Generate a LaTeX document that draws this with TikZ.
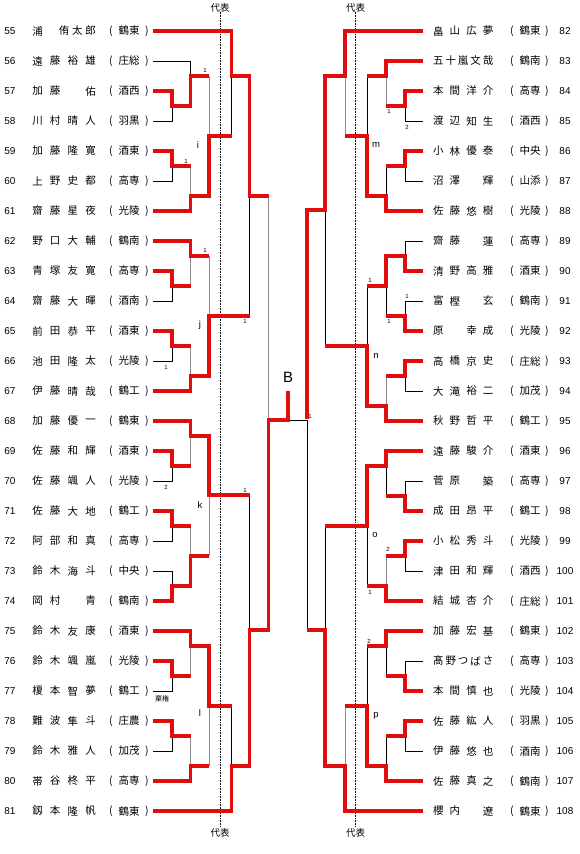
\documentclass[tikz,border=0pt]{standalone}
\usepackage{fontspec}
\setmainfont{Liberation Sans}
\newfontfamily\jp{Noto Sans CJK JP}
\definecolor{redl}{RGB}{225,12,12}
\tikzset{
 win/.style={draw=redl, line width=3.2pt},
 losek/.style={draw=black, line width=0.9pt},
 loseg/.style={draw=black!45, line width=0.9pt},
 jp/.style={font=\jp\fontsize{10.5}{12}\selectfont, inner sep=0pt},
 num/.style={font=\fontsize{10}{12}\selectfont, inner sep=0pt},
 tag/.style={font=\fontsize{6}{7}\selectfont, inner sep=0pt},
 blk/.style={font=\fontsize{9.5}{11}\selectfont, inner sep=0pt},
 rep/.style={font=\jp\fontsize{9.5}{11}\selectfont, inner sep=0pt},
 dotline/.style={draw=black, line width=0.6pt, densely dotted},
}
\newcommand\Lfour[7]{%
 \node[num] (num#1) at (10,#2) {#1};
 \node[jp] (na#1) at (37.5,#2) {#3};
 \node[jp] (nb#1) at (55.2,#2) {#4};
 \node[jp] (nc#1) at (72.9,#2) {#5};
 \node[jp] (nd#1) at (90.6,#2) {#6};
 \node[jp] (op#1) at (111,#2) {(};
 \node[jp] (sc#1) at (129,#2) {#7};
 \node[jp] (cp#1) at (147,#2) {)};
 \coordinate (e#1) at (153,#2);
}
\newcommand\Lfive[8]{%
 \node[num] (num#1) at (10,#2) {#1};
 \node[jp] (na#1) at (37.5,#2) {#3};
 \node[jp] (nb#1) at (50.8,#2) {#4};
 \node[jp] (nc#1) at (64,#2) {#5};
 \node[jp] (nd#1) at (77.3,#2) {#6};
 \node[jp] (ne#1) at (90.6,#2) {#7};
 \node[jp] (op#1) at (111,#2) {(};
 \node[jp] (sc#1) at (129,#2) {#8};
 \node[jp] (cp#1) at (147,#2) {)};
 \coordinate (e#1) at (153,#2);
}
\newcommand\Rfour[7]{%
 \node[num] (num#1) at (565,#2) {#1};
 \node[jp] (na#1) at (438.3,#2) {#3};
 \node[jp] (nb#1) at (454.9,#2) {#4};
 \node[jp] (nc#1) at (471.5,#2) {#5};
 \node[jp] (nd#1) at (488.1,#2) {#6};
 \node[jp] (op#1) at (512,#2) {(};
 \node[jp] (sc#1) at (530,#2) {#7};
 \node[jp] (cp#1) at (547,#2) {)};
 \coordinate (e#1) at (423,#2);
}
\newcommand\Rfive[8]{%
 \node[num] (num#1) at (565,#2) {#1};
 \node[jp] (na#1) at (438.3,#2) {#3};
 \node[jp] (nb#1) at (450.75,#2) {#4};
 \node[jp] (nc#1) at (463.2,#2) {#5};
 \node[jp] (nd#1) at (475.65,#2) {#6};
 \node[jp] (ne#1) at (488.1,#2) {#7};
 \node[jp] (op#1) at (512,#2) {(};
 \node[jp] (sc#1) at (530,#2) {#8};
 \node[jp] (cp#1) at (547,#2) {)};
 \coordinate (e#1) at (423,#2);
}
\begin{document}
\begin{tikzpicture}[x=1pt,y=-1pt]
\fill[white] (0,0) rectangle (580,854);
\useasboundingbox (0,0) rectangle (580,854);

% representative lines
\node[rep] (repLt) at (220,8) {代表};
\node[rep] (repLb) at (220,833) {代表};
\node[rep] (repRt) at (355.5,8) {代表};
\node[rep] (repRb) at (355.5,833) {代表};
\draw[dotline] (repLt.south) ++(0,-1) -- (220,827);
\draw[dotline] (repRt.south) ++(0,-1) -- (355.5,827);

% left players
\Lfive{55}{31}{浦}{}{侑}{太}{郎}{鶴東}
\Lfour{56}{61}{遠}{藤}{裕}{雄}{庄総}
\Lfour{57}{91}{加}{藤}{}{佑}{酒西}
\Lfour{58}{121}{川}{村}{晴}{人}{羽黒}
\Lfour{59}{151}{加}{藤}{隆}{寛}{酒東}
\Lfour{60}{181}{上}{野}{史}{都}{高専}
\Lfour{61}{211}{齋}{藤}{星}{夜}{光陵}
\Lfour{62}{241}{野}{口}{大}{輔}{鶴南}
\Lfour{63}{271}{青}{塚}{友}{寛}{高専}
\Lfour{64}{301}{齋}{藤}{大}{暉}{酒南}
\Lfour{65}{331}{前}{田}{恭}{平}{酒東}
\Lfour{66}{361}{池}{田}{隆}{太}{光陵}
\Lfour{67}{391}{伊}{藤}{晴}{哉}{鶴工}
\Lfour{68}{421}{加}{藤}{優}{一}{鶴東}
\Lfour{69}{451}{佐}{藤}{和}{輝}{酒東}
\Lfour{70}{481}{佐}{藤}{颯}{人}{光陵}
\Lfour{71}{511}{佐}{藤}{大}{地}{鶴工}
\Lfour{72}{541}{阿}{部}{和}{真}{高専}
\Lfour{73}{571}{鈴}{木}{海}{斗}{中央}
\Lfour{74}{601}{岡}{村}{}{青}{鶴南}
\Lfour{75}{631}{鈴}{木}{友}{康}{酒東}
\Lfour{76}{661}{鈴}{木}{颯}{嵐}{光陵}
\Lfour{77}{691}{榎}{本}{智}{夢}{鶴工}
\Lfour{78}{721}{難}{波}{隼}{斗}{庄農}
\Lfour{79}{751}{鈴}{木}{雅}{人}{加茂}
\Lfour{80}{781}{帯}{谷}{柊}{平}{高専}
\Lfour{81}{811}{釼}{本}{隆}{帆}{鶴東}

% right players
\Rfour{82}{31}{畠}{山}{広}{夢}{鶴東}
\Rfive{83}{61}{五}{十}{嵐}{文}{哉}{鶴南}
\Rfour{84}{91}{本}{間}{洋}{介}{高専}
\Rfour{85}{121}{渡}{辺}{知}{生}{酒西}
\Rfour{86}{151}{小}{林}{優}{泰}{中央}
\Rfour{87}{181}{沼}{澤}{}{輝}{山添}
\Rfour{88}{211}{佐}{藤}{悠}{樹}{光陵}
\Rfour{89}{241}{齋}{藤}{}{蓮}{高専}
\Rfour{90}{271}{清}{野}{高}{雅}{酒東}
\Rfour{91}{301}{富}{樫}{}{玄}{鶴南}
\Rfour{92}{331}{原}{}{幸}{成}{光陵}
\Rfour{93}{361}{高}{橋}{京}{史}{庄総}
\Rfour{94}{391}{大}{滝}{裕}{二}{加茂}
\Rfour{95}{421}{秋}{野}{哲}{平}{鶴工}
\Rfour{96}{451}{遠}{藤}{駿}{介}{酒東}
\Rfour{97}{481}{菅}{原}{}{築}{高専}
\Rfour{98}{511}{成}{田}{昂}{平}{鶴工}
\Rfour{99}{541}{小}{松}{秀}{斗}{光陵}
\Rfour{100}{571}{津}{田}{和}{輝}{酒西}
\Rfour{101}{601}{結}{城}{杏}{介}{庄総}
\Rfour{102}{631}{加}{藤}{宏}{基}{鶴東}
\Rfive{103}{661}{髙}{野}{つ}{ば}{さ}{高専}
\Rfour{104}{691}{本}{間}{慎}{也}{光陵}
\Rfour{105}{721}{佐}{藤}{紘}{人}{羽黒}
\Rfour{106}{751}{伊}{藤}{悠}{也}{酒南}
\Rfour{107}{781}{佐}{藤}{真}{之}{鶴南}
\Rfour{108}{811}{櫻}{内}{}{遼}{鶴東}

% ---------- left thin lines ----------
\draw[losek] (e56) -- (190.5,61) -- (190.5,76);
\draw[losek] (e58) -- (172,121) -- (172,106);
\draw[losek] (e60) -- (172,181) -- (172,166);
\draw[loseg] (190.5,166) -- (190.5,196);
\draw[loseg] (209,76) -- (209,136);
\draw[losek] (231.5,76) -- (231.5,136);
\draw[loseg] (190.5,256) -- (190.5,286);
\draw[losek] (e64) -- (172,301) -- (172,286);
\draw[losek] (e66) -- (172,361) -- (172,346);
\draw[loseg] (190.5,346) -- (190.5,376);
\draw[loseg] (209,256) -- (209,316);
\draw[losek] (249.5,196) -- (249.5,316);
\draw[loseg] (268.5,196) -- (268.5,420);
\draw[losek] (e70) -- (172,481) -- (172,466);
\draw[loseg] (190.5,436) -- (190.5,466);
\draw[losek] (e72) -- (172,541) -- (172,526);
\draw[losek] (e73) -- (172,571) -- (172,586);
\draw[loseg] (190.5,526) -- (190.5,556);
\draw[loseg] (209,495) -- (209,556);
\draw[losek] (249.5,495) -- (249.5,630);
\draw[losek] (e77) -- (172,691) -- (172,676);
\draw[loseg] (190.5,646) -- (190.5,676);
\draw[losek] (e79) -- (172,751) -- (172,736);
\draw[loseg] (190.5,736) -- (190.5,766);
\draw[loseg] (209,706) -- (209,766);
\draw[losek] (231.5,706) -- (231.5,766);
\coordinate (fin) at (288,420);
\coordinate (finR) at (307,420);
\draw[losek] (fin) -- (finR);

% ---------- right thin lines ----------
\draw[losek] (e85) -- (405,121) -- (405,106);
\draw[loseg] (386,76) -- (386,106);
\draw[losek] (e87) -- (405,181) -- (405,166);
\draw[losek] (386,166) -- (386,196);
\draw[losek] (367,76) -- (367,136);
\draw[loseg] (345,76) -- (345,136);
\draw[losek] (e89) -- (405,241) -- (405,256);
\draw[losek] (e91) -- (405,301) -- (405,316);
\draw[losek] (386,286) -- (386,316);
\draw[losek] (e94) -- (405,391) -- (405,376);
\draw[loseg] (386,376) -- (386,406);
\draw[losek] (367,286) -- (367,346);
\draw[losek] (325,210) -- (325,346);
\draw[losek] (e97) -- (405,481) -- (405,496);
\draw[losek] (386,466) -- (386,496);
\draw[losek] (e100) -- (405,571) -- (405,556);
\draw[loseg] (386,556) -- (386,586);
\draw[losek] (367,526) -- (367,586);
\draw[losek] (325,526) -- (325,630);
\draw[losek] (finR) -- (307,630);
\draw[losek] (e103) -- (405,661) -- (405,676);
\draw[losek] (386,646) -- (386,676);
\draw[losek] (e106) -- (405,751) -- (405,736);
\draw[losek] (386,736) -- (386,766);
\draw[losek] (367,646) -- (367,706);
\draw[loseg] (345,706) -- (345,766);

% ---------- left winners ----------
\draw[win] (e57) -- (172,91) -- (172,106) -- (190.5,106) -- (190.5,76) -- (209,76);
\draw[win] (e59) -- (172,151) -- (172,166) -- (190.5,166);
\draw[win] (e61) -- (190.5,211) -- (190.5,196) -- (209,196) -- (209,136) -- (231.5,136);
\draw[win] (e55) -- (231.5,31) -- (231.5,76) -- (249.5,76) -- (249.5,196) -- (268.5,196);
\draw[win] (e62) -- (190.5,241) -- (190.5,256) -- (209,256);
\draw[win] (e63) -- (172,271) -- (172,286) -- (190.5,286);
\draw[win] (e65) -- (172,331) -- (172,346) -- (190.5,346);
\draw[win] (e67) -- (190.5,391) -- (190.5,376) -- (209,376) -- (209,316) -- (249.5,316);
\draw[win] (e68) -- (190.5,421) -- (190.5,436) -- (209,436) -- (209,495) -- (249.5,495);
\draw[win] (e69) -- (172,451) -- (172,466) -- (190.5,466);
\draw[win] (e71) -- (172,511) -- (172,526) -- (190.5,526);
\draw[win] (e74) -- (172,601) -- (172,586) -- (190.5,586) -- (190.5,556) -- (209,556);
\draw[win] (e75) -- (190.5,631) -- (190.5,646) -- (209,646) -- (209,706) -- (231.5,706);
\draw[win] (e76) -- (172,661) -- (172,676) -- (190.5,676);
\draw[win] (e78) -- (172,721) -- (172,736) -- (190.5,736);
\draw[win] (e80) -- (190.5,781) -- (190.5,766) -- (209,766);
\draw[win] (e81) -- (231.5,811) -- (231.5,766) -- (249.5,766) -- (249.5,630) -- (268.5,630) -- (268.5,420) -- (fin) -- (288,391);

% ---------- right winners ----------
\draw[win] (e83) -- (386,61) -- (386,76) -- (367,76);
\draw[win] (e84) -- (405,91) -- (405,106) -- (386,106);
\draw[win] (e86) -- (405,151) -- (405,166) -- (386,166);
\draw[win] (e88) -- (386,211) -- (386,196) -- (367,196) -- (367,136) -- (345,136);
\draw[win] (e82) -- (345,31) -- (345,76) -- (325,76) -- (325,210) -- (307,210) -- (307,418.5);
\draw[win] (e90) -- (405,271) -- (405,256) -- (386,256) -- (386,286) -- (367,286);
\draw[win] (e92) -- (405,331) -- (405,316) -- (386,316);
\draw[win] (e93) -- (405,361) -- (405,376) -- (386,376);
\draw[win] (e95) -- (386,421) -- (386,406) -- (367,406) -- (367,346) -- (325,346);
\draw[win] (e96) -- (386,451) -- (386,466) -- (367,466) -- (367,526) -- (325,526);
\draw[win] (e98) -- (405,511) -- (405,496) -- (386,496);
\draw[win] (e99) -- (405,541) -- (405,556) -- (386,556);
\draw[win] (e101) -- (386,601) -- (386,586) -- (367,586);
\draw[win] (e102) -- (386,631) -- (386,646) -- (367,646);
\draw[win] (e104) -- (405,691) -- (405,676) -- (386,676);
\draw[win] (e105) -- (405,721) -- (405,736) -- (386,736);
\draw[win] (e107) -- (386,781) -- (386,766) -- (367,766) -- (367,706) -- (345,706);
\draw[win] (e108) -- (345,811) -- (345,766) -- (325,766) -- (325,630) -- (307,630);

% ---------- labels ----------
\node[tag] (la1) at (205,70) {1};
\node[tag] (la2) at (186,161) {1};
\node[tag] (la3) at (205,250) {1};
\node[tag] (la4) at (166,367) {1};
\node[tag] (la5) at (245,321) {1};
\node[tag] (la6) at (245,490) {1};
\node[tag] (la7) at (166,487) {2};
\node[jp, font=\jp\fontsize{7}{8}\selectfont] (kiken) at (162,699) {棄権};
\node[blk] (bi) at (198,145) {i};
\node[blk] (bj) at (200,325) {j};
\node[blk] (bk) at (200,505) {k};
\node[blk] (bl) at (200,713) {l};

\node[tag] (ra1) at (389,111) {1};
\node[tag] (ra2) at (407,127) {2};
\node[tag] (ra3) at (370,280) {1};
\node[tag] (ra4) at (407,296) {1};
\node[tag] (ra5) at (389,321) {1};
\node[tag] (ra6) at (310,416) {1};
\node[tag] (ra7) at (388,549) {2};
\node[tag] (ra8) at (370,592) {1};
\node[tag] (ra9) at (369,641) {2};
\node[blk] (bm) at (376,145) {m};
\node[blk] (bn) at (376,356) {n};
\node[blk] (bo) at (375,535) {o};
\node[blk] (bp) at (376,716) {p};

\node[font=\fontsize{15}{17}\selectfont, inner sep=0pt] (B) at (288,377) {B};
\end{tikzpicture}
\end{document}
